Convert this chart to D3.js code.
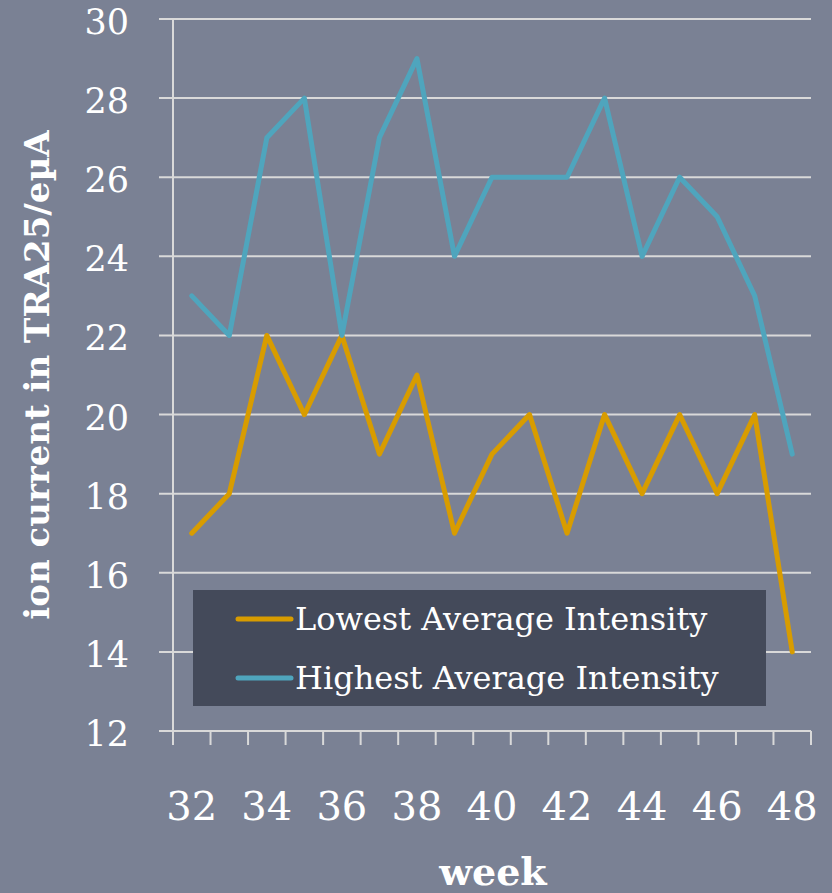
<!DOCTYPE html>
<html>
<head>
<meta charset="utf-8">
<script src="https://cdn.jsdelivr.net/npm/d3@7"></script>
<style>
  html, body { margin: 0; padding: 0; background: #7a8194; }
  svg { display: block; }
</style>
</head>
<body>
<div id="chart"></div>
<script>
const weeks = [32, 33, 34, 35, 36, 37, 38, 39, 40, 41, 42, 43, 44, 45, 46, 47, 48];
const lowest = [17, 18, 22, 20, 22, 19, 21, 17, 19, 20, 17, 20, 18, 20, 18, 20, 14];
const highest = [23, 22, 27, 28, 22, 27, 29, 24, 26, 26, 26, 28, 24, 26, 25, 23, 19];
const yTicks = [12, 14, 16, 18, 20, 22, 24, 26, 28, 30];
const xLabels = [32, 34, 36, 38, 40, 42, 44, 46, 48];

const seriesNames = ['Lowest Average Intensity', 'Highest Average Intensity'];
const colors = { 'Lowest Average Intensity': '#d89c00', 'Highest Average Intensity': '#4fa5bd' };

const W = 832, H = 893;
const svg = d3.select('#chart').append('svg')
    .attr('width', W)
    .attr('height', H)
    .style('font-family', '"DejaVu Serif", "Liberation Serif", serif');

svg.append('rect').attr('width', W).attr('height', H).attr('fill', '#7a8194');

const x = d3.scaleBand().domain(weeks).range([173, 811]);
const y = d3.scaleLinear().domain([12, 30]).range([731, 19]);

// gridlines
svg.append('g')
    .selectAll('line')
    .data(yTicks)
    .enter().append('line')
    .attr('x1', 159)
    .attr('x2', 811)
    .attr('y1', d => y(d))
    .attr('y2', d => y(d))
    .attr('stroke', '#d9d9d9')
    .attr('stroke-width', 2);

// y axis line
svg.append('line')
    .attr('x1', 173).attr('x2', 173)
    .attr('y1', y(30)).attr('y2', y(12))
    .attr('stroke', '#d9d9d9').attr('stroke-width', 2);

// y tick labels
svg.append('g')
    .selectAll('text')
    .data(yTicks)
    .enter().append('text')
    .attr('x', 129)
    .attr('y', d => y(d) + 15)
    .attr('text-anchor', 'end')
    .attr('fill', '#fff')
    .style('font-size', '35px')
    .text(d => d);

// x axis line and ticks (between categories)
svg.append('line')
    .attr('x1', 159).attr('x2', 811)
    .attr('y1', y(12)).attr('y2', y(12))
    .attr('stroke', '#d9d9d9').attr('stroke-width', 2);

const tickPos = weeks.map(d => x(d)).concat([x(weeks[weeks.length - 1]) + x.bandwidth()]);
svg.append('g')
    .selectAll('line')
    .data(tickPos)
    .enter().append('line')
    .attr('x1', d => d).attr('x2', d => d)
    .attr('y1', y(12)).attr('y2', y(12) + 14)
    .attr('stroke', '#d9d9d9').attr('stroke-width', 2);

svg.append('g')
    .selectAll('text')
    .data(xLabels)
    .enter().append('text')
    .attr('x', d => x(d) + x.bandwidth() / 2)
    .attr('y', 820)
    .attr('text-anchor', 'middle')
    .attr('fill', '#fff')
    .style('font-size', '40px')
    .text(d => d);

// axis titles
svg.append('text')
    .attr('x', 493)
    .attr('y', 885)
    .attr('text-anchor', 'middle')
    .attr('fill', '#fff')
    .style('font-size', '38px')
    .style('font-weight', 'bold')
    .text('week');

svg.append('text')
    .attr('transform', 'translate(49,375) rotate(-90)')
    .attr('text-anchor', 'middle')
    .attr('fill', '#fff')
    .style('font-size', '34px')
    .style('font-weight', 'bold')
    .text('ion current in TRA25/eµA');

// lines
const line = d3.line()
    .x((d, i) => x(weeks[i]) + x.bandwidth() / 2)
    .y(d => y(d));

[[lowest, seriesNames[0]], [highest, seriesNames[1]]].forEach(([vals, name]) => {
    svg.append('path')
        .datum(vals)
        .attr('d', line)
        .attr('fill', 'none')
        .attr('stroke', colors[name])
        .attr('stroke-width', 5)
        .attr('stroke-linejoin', 'round')
        .attr('stroke-linecap', 'round');
});

// legend
const legend = svg.append('g').attr('transform', 'translate(193,590)');
legend.append('rect')
    .attr('width', 573)
    .attr('height', 116)
    .attr('fill', '#444a5a');

const items = legend.selectAll('.legend')
    .data(seriesNames)
    .enter().append('g')
    .attr('class', 'legend')
    .attr('transform', (d, i) => `translate(0,${29 + i * 59})`);

items.append('line')
    .attr('x1', 45).attr('x2', 98)
    .attr('stroke', d => colors[d])
    .attr('stroke-width', 5)
    .attr('stroke-linecap', 'round');

items.append('text')
    .attr('x', 102)
    .attr('dy', '0.35em')
    .attr('fill', '#fff')
    .style('font-size', '32px')
    .text(d => d);
</script>
</body>
</html>
